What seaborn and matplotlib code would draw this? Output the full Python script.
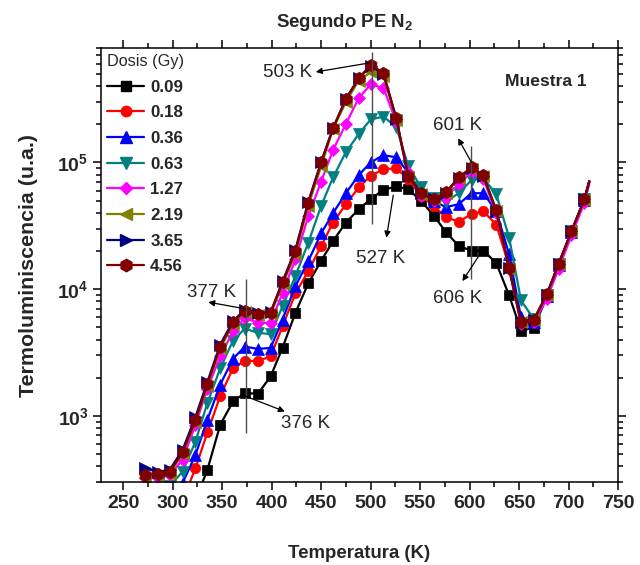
import numpy as np
import matplotlib
matplotlib.use('Agg')
import matplotlib.pyplot as plt
import seaborn as sns
from matplotlib.lines import Line2D
from matplotlib.ticker import MultipleLocator, LogLocator, FuncFormatter, NullFormatter

nan = np.nan

# Temperature (K)
temperature = [272, 285, 297, 310, 323, 335, 348, 361, 373, 386, 399, 411, 424, 437,
               450, 462, 475, 488, 500, 513, 526, 538, 551, 564, 576, 589, 602, 614,
               627, 640, 652, 665, 678, 690, 703, 716, 721]

dose_labels = ['0.09', '0.18', '0.36', '0.63', '1.27', '2.19', '3.65', '4.56']

tl_009 = [nan, nan, nan, nan, 216, 374, 849, 1298, 1513, 1490, 2047, 3451, 6500, 11090,
          16710, 23970, 33500, 42700, 51200, 60900, 64600, 61500, 49700, 37800, 28300,
          21900, 20100, 20100, 16050, 8910, 4710, 4970, 8700, 15300, 28000, 50000, 70000]
tl_018 = [nan, nan, nan, 215, 385, 740, 1427, 2385, 2724, 2700, 2946, 5090, 9240, 13870,
          21880, 33500, 46800, 63400, 78300, 88500, 89650, 73800, 54400, 45100, 36900,
          34100, 39000, 41200, 32200, 15200, 5500, 5500, 8900, 15500, 28300, 50500, 70500]
tl_036 = [nan, nan, nan, 295, 491, 929, 1760, 2826, 3516, 3372, 3435, 5750, 10550, 16640,
          27560, 39700, 57150, 79350, 100000, 114200, 109500, 83300, 57900, 49700, 44300,
          46800, 57150, 57150, 41200, 18800, 5970, 5500, 8900, 15600, 28400, 50500, 70500]
tl_063 = [nan, nan, 280, 362, 626, 1262, 2368, 3925, 4884, 4515, 4415, 7330, 12660, 23270,
          45350, 76100, 120600, 167500, 218200, 230400, 189200, 94000, 63400, 52850, 48950,
          57150, 72500, 75000, 56100, 25500, 8130, 5800, 9000, 15700, 28500, 51000, 71000]
tl_127 = [320, 325, 340, 449, 849, 1636, 2946, 4645, 5930, 5420, 5420, 9360, 17170, 37800,
          70500, 125100, 201000, 322700, 412800, 387300, 207300, 83300, 54400, 49700, 52850,
          67300, 83300, 73800, 39700, 14300, 5300, 5500, 8300, 14500, 26500, 48000, 68000]
tl_219 = [320, 335, 350, 500, 900, 1720, 3400, 5300, 6600, 6200, 6350, 10900, 19000, 45500,
          93000, 183500, 300000, 442500, 515000, 484000, 215000, 77000, 56500, 51000, 57000,
          75000, 89000, 77500, 41000, 14500, 5450, 5700, 9000, 15700, 28500, 50800, 71000]
tl_365 = [385, 360, 375, 540, 980, 1850, 3650, 5600, 6900, 6450, 6600, 11500, 20500, 49000,
          101000, 187000, 318000, 462000, 575000, 500000, 222000, 78000, 57000, 51000, 57500,
          76000, 91000, 78500, 41500, 14700, 5500, 5700, 9050, 15800, 28700, 51000, 71000]
tl_456 = [341, 347, 361, 514, 925, 1775, 3516, 5470, 6775, 6360, 6530, 11290, 19970, 48240,
          100000, 185800, 317000, 462000, 589000, 504500, 223000, 78300, 57150, 51230, 57900,
          76100, 91300, 78900, 41900, 14650, 5520, 5750, 9080, 15870, 28750, 51230, 71500]

series = [tl_009, tl_018, tl_036, tl_063, tl_127, tl_219, tl_365, tl_456]
colors = ['#000000', '#FF0000', '#0000FF', '#008080', '#FF00FF', '#808000', '#000080', '#800000']
markers = ['s', 'o', '^', 'v', 'D', '<', '>', 'h']
msizes = [7, 7.5, 8, 8, 6.5, 8, 8, 9]

sns.set_theme(style='ticks')
plt.rcParams['font.family'] = ['Liberation Sans', 'DejaVu Sans']
plt.rcParams['mathtext.fontset'] = 'custom'
plt.rcParams['mathtext.rm'] = 'Liberation Sans'
plt.rcParams['mathtext.bf'] = 'Liberation Sans:bold'
plt.rcParams['mathtext.it'] = 'Liberation Sans:italic'

fig = plt.figure(figsize=(6.4, 5.65), dpi=100)
ax = fig.add_axes([0.1578, 0.1469, 0.8078, 0.7681])
ax.set_yscale('log')

for vals, col, mk, ms in zip(series, colors, markers, msizes):
    sns.lineplot(x=temperature, y=vals, ax=ax, color=col, marker=mk, markersize=ms,
                 markeredgecolor=col, markeredgewidth=0.5, linewidth=1.6,
                 markevery=slice(0, -1), estimator=None, sort=False, legend=False)

ax.set_xlim(227.5, 750)
ax.set_ylim(300, 8e5)

# reference lines and peak annotations
vcol = '#4d4d4d'
ax.vlines(501, 32500, 746000, color=vcol, lw=1)
ax.vlines(373.8, 730, 11920, color=vcol, lw=1)
ax.vlines(601.9, 11920, 135300, color=vcol, lw=1)

aprops = dict(arrowstyle='-|>', color='black', lw=0.9, mutation_scale=9, shrinkA=0, shrinkB=0)
afs = 13.5
ax.annotate('', xy=(444.6, 518000), xytext=(499.2, 611000), arrowprops=aprops)
ax.text(415.9, 512000, '503 K', fontsize=afs, ha='center', va='center')
ax.annotate('', xy=(335.9, 7890), xytext=(373.1, 6990), arrowprops=aprops)
ax.text(339.6, 9410, '377 K', fontsize=afs, ha='center', va='center')
ax.annotate('', xy=(413.3, 1081), xytext=(374.0, 1422), arrowprops=aprops)
ax.text(434.5, 872, '376 K', fontsize=afs, ha='center', va='center')
ax.annotate('', xy=(516.0, 25500), xytext=(522.9, 55100), arrowprops=aprops)
ax.text(510.3, 17480, '527 K', fontsize=afs, ha='center', va='center')
ax.annotate('', xy=(588.4, 155000), xytext=(601.9, 100000), arrowprops=aprops)
ax.text(588.1, 197300, '601 K', fontsize=afs, ha='center', va='center')
ax.annotate('', xy=(592.8, 11560), xytext=(610.3, 18790), arrowprops=aprops)
ax.text(587.6, 8360, '606 K', fontsize=afs, ha='center', va='center')

ax.text(0.861, 0.922, 'Muestra 1', transform=ax.transAxes, fontsize=12.6,
        fontweight='bold', ha='center', va='center')

# axes styling
ax.xaxis.set_major_locator(MultipleLocator(50))
ax.xaxis.set_minor_locator(MultipleLocator(25))
ax.yaxis.set_major_locator(LogLocator(base=10, numticks=10))
ax.yaxis.set_minor_locator(LogLocator(base=10, subs=np.arange(2, 10), numticks=20))
ax.yaxis.set_minor_formatter(NullFormatter())
ax.yaxis.set_major_formatter(FuncFormatter(lambda v, p: r'$\mathbf{10^{%d}}$' % round(np.log10(v))))
ax.tick_params(which='both', direction='out', top=True, right=True,
               labeltop=False, labelright=False, color='black', width=1.1)
ax.tick_params(which='major', length=6, labelsize=14, pad=3)
ax.tick_params(which='minor', length=3.5)
for lab in ax.get_xticklabels():
    lab.set_fontweight('bold')
for sp in ax.spines.values():
    sp.set_linewidth(1.1)
    sp.set_color('black')

ax.set_xlabel('Temperatura (K)', fontsize=13.4, fontweight='bold')
ax.set_ylabel('Termoluminiscencia (u.a.)', fontsize=15.4, fontweight='bold')
ax.xaxis.set_label_coords(0.5, -0.145)
ax.yaxis.set_label_coords(-0.122, 0.5)

fig.text(0.539, 0.961, r'Segundo PE N$_\mathbf{2}$', fontsize=13.4, fontweight='bold',
         ha='center', va='center')

handles = [Line2D([], [], color=c, marker=m, markersize=s, markeredgecolor=c, lw=1.6)
           for c, m, s in zip(colors, markers, msizes)]
leg = ax.legend(handles, dose_labels, title='Dosis (Gy)', loc='upper left',
                bbox_to_anchor=(0.0, 1.0), frameon=False,
                prop={'weight': 'bold', 'size': 12.2}, title_fontsize=11.7,
                handlelength=2.2, handletextpad=0.35, labelspacing=0.63,
                borderpad=0.25, borderaxespad=0.1, alignment='left')

fig.savefig('out.png', dpi=100)
